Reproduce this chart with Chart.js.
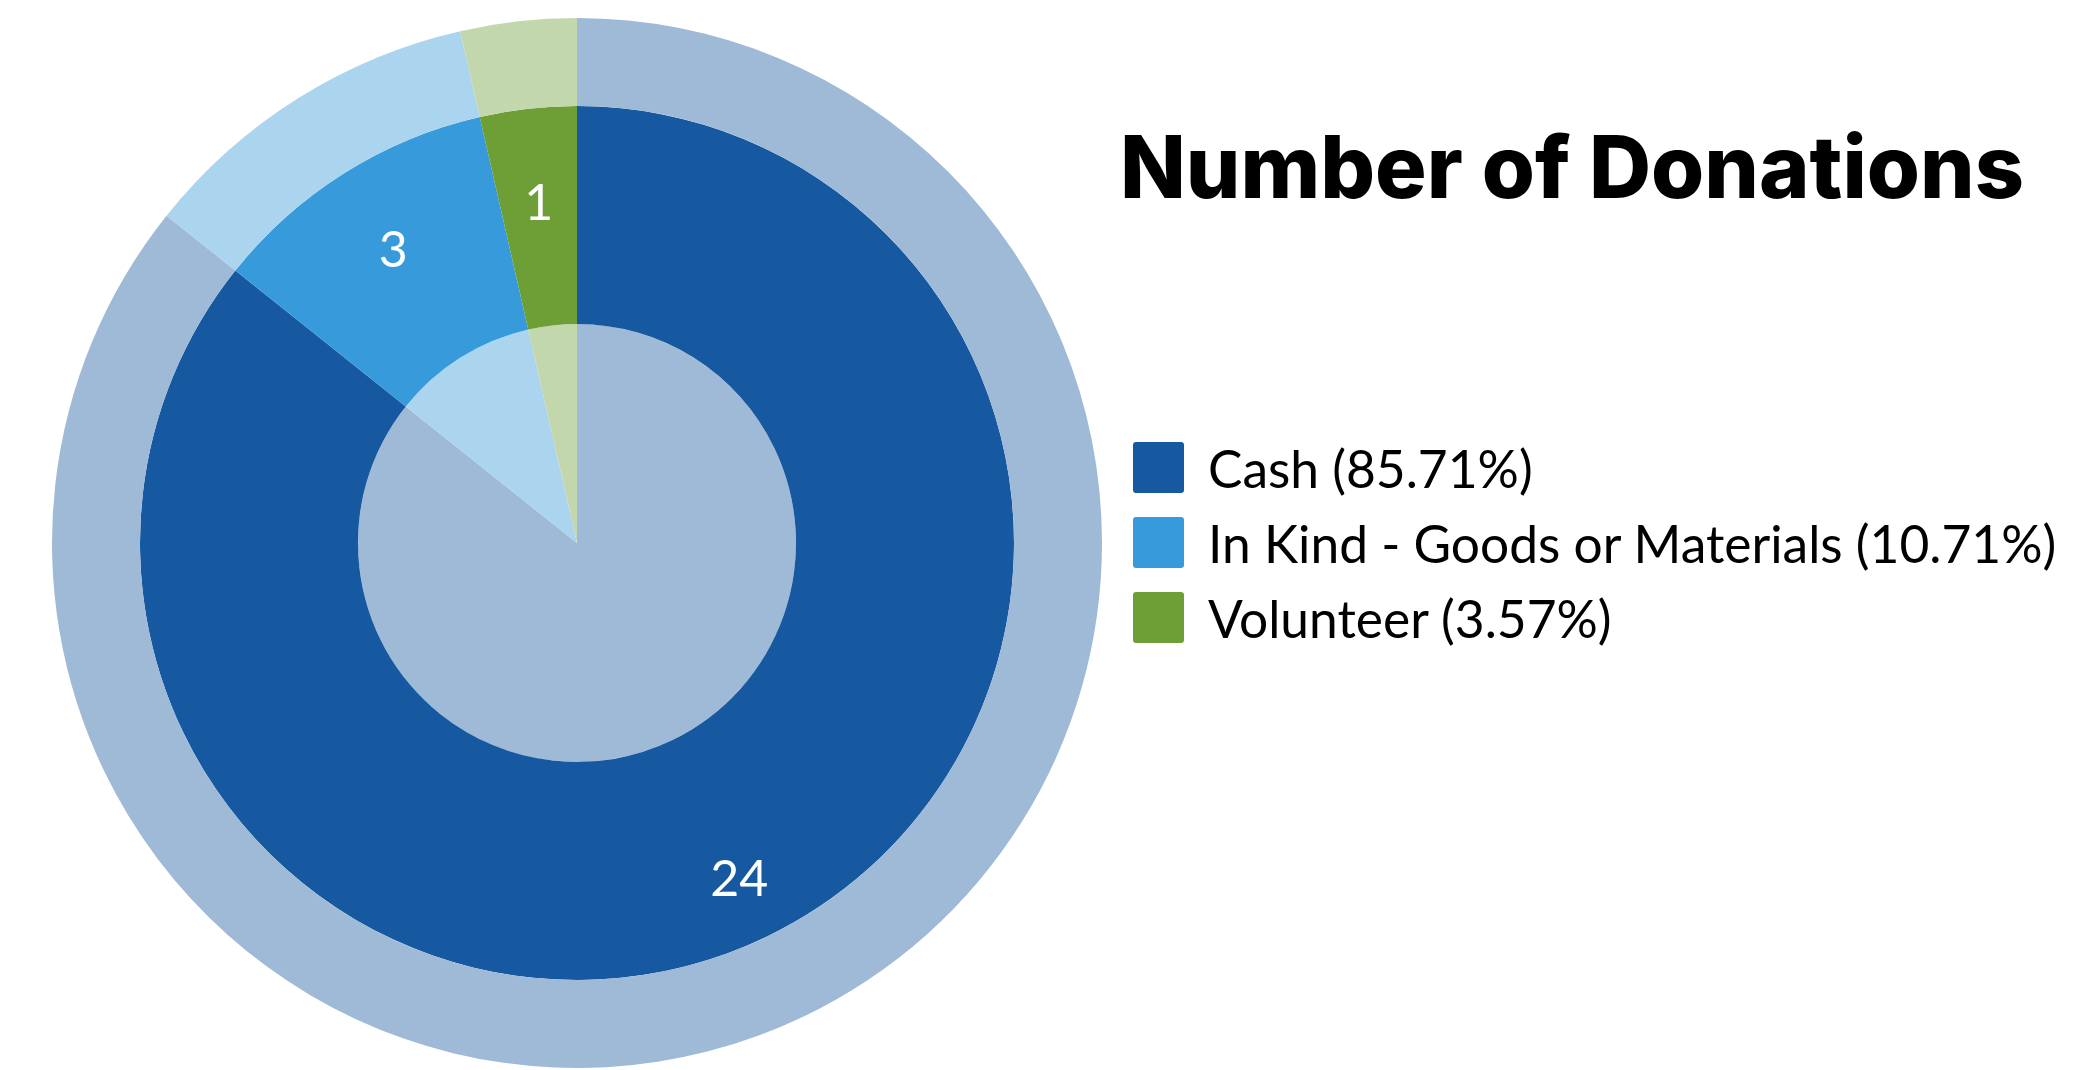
<!DOCTYPE html>
<html>
<head>
<meta charset="utf-8">
<title>Number of Donations</title>
<script src="https://cdn.jsdelivr.net/npm/chart.js@4"></script>
<style>
  html, body { margin: 0; padding: 0; background: #fff; }
  body { width: 2088px; height: 1070px; position: relative; overflow: hidden; }
  #donationChart { position: absolute; left: 52px; top: 18px; }
  #title {
    position: absolute; left: 1120px; top: 117px;
    font-family: Inter, "Open Sans", sans-serif; font-weight: 800;
    font-size: 86px; line-height: 100px; color: #000; white-space: nowrap;
  }
  #legend { position: absolute; left: 1133px; top: 430px; }
  .item { display: flex; align-items: center; height: 75px; }
  .swatch { width: 51px; height: 51px; border-radius: 3px; margin-right: 24px; }
  .text { font-family: Lato, sans-serif; font-size: 51.5px; color: #000; white-space: nowrap; }
</style>
</head>
<body>
<canvas id="donationChart" width="1050" height="1050"></canvas>
<div id="title">Number of Donations</div>
<div id="legend"></div>
<script>
// donation types and how many of each
const categories = ["Cash", "In Kind - Goods or Materials", "Volunteer"];
const donationCounts = [24, 3, 1];

const darkColors = ["#1659A0", "#379BDB", "#6E9F37"];
const lightColors = ["#9FBAD7", "#ABD4EE", "#C3D7AD"];

// where the count sits across the middle ring (0 = inner edge, 1 = outer edge)
const labelDepth = [0.71, 0.58, 0.56];

const total = donationCounts.reduce((a, b) => a + b, 0);

// legend
const legend = document.getElementById("legend");
categories.forEach(function (name, i) {
  const pct = (donationCounts[i] / total * 100).toFixed(2);
  const row = document.createElement("div");
  row.className = "item";
  row.innerHTML = '<div class="swatch" style="background:' + darkColors[i] + '"></div>' +
    '<div class="text">' + name + " (" + pct + "%)</div>";
  legend.appendChild(row);
});

// write the counts on the dark ring
const countLabels = {
  id: "countLabels",
  afterDatasetsDraw(chart) {
    const meta = chart.getDatasetMeta(1);
    const ctx = chart.ctx;
    ctx.save();
    ctx.fillStyle = "#fff";
    ctx.font = "50px Lato";
    ctx.textAlign = "center";
    ctx.textBaseline = "middle";
    meta.data.forEach(function (arc, i) {
      const p = arc.getProps(["x", "y", "startAngle", "endAngle", "innerRadius", "outerRadius"], true);
      const mid = (p.startAngle + p.endAngle) / 2;
      const r = p.innerRadius + labelDepth[i] * (p.outerRadius - p.innerRadius);
      ctx.fillText(String(donationCounts[i]), p.x + Math.cos(mid) * r, p.y + Math.sin(mid) * r);
    });
    ctx.restore();
  }
};

const ctx = document.getElementById("donationChart").getContext("2d");
new Chart(ctx, {
  type: "doughnut",
  data: {
    labels: categories,
    datasets: [
      { data: donationCounts, backgroundColor: lightColors, borderWidth: 0, weight: 88 },
      { data: donationCounts, backgroundColor: darkColors, borderWidth: 0, weight: 218 },
      { data: donationCounts, backgroundColor: lightColors, borderWidth: 0, weight: 219 }
    ]
  },
  options: {
    responsive: false,
    animation: false,
    cutout: 0,
    events: [],
    layout: { padding: 0 },
    plugins: {
      legend: { display: false },
      tooltip: { enabled: false }
    }
  },
  plugins: [countLabels]
});
</script>
</body>
</html>
